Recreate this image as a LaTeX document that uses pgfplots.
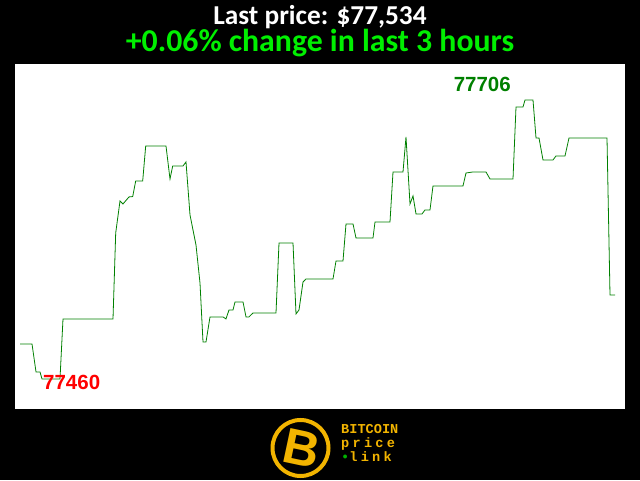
\documentclass[border=0pt]{standalone}
\usepackage{pgfplots}
\pgfplotsset{compat=1.18}
\usepackage{fontspec}
\setmainfont{Carlito}
\newfontfamily\arialfont{Liberation Sans}
\newfontfamily\monofont{Liberation Mono}
\newfontfamily\monospaced[LetterSpace=24]{Liberation Mono}
\definecolor{linegreen}{RGB}{0,128,0}
\definecolor{titlegreen}{RGB}{0,240,0}
\definecolor{btcyellow}{RGB}{242,180,0}
\begin{document}
\begin{tikzpicture}
\fill[black] (0pt,0pt) rectangle (640pt,480pt);
\fill[white] (15pt,71pt) rectangle (625pt,416pt);
\node[anchor=base,text=white,font=\bfseries\fontsize{27.3}{27.3}\selectfont,inner sep=0] at (320pt,455pt) {Last price: \$77,534};
\node[anchor=base,text=titlegreen,font=\bfseries\fontsize{31.8}{31.8}\selectfont,inner sep=0] at (320pt,428pt) {+0.06\% change in last 3 hours};
\begin{axis}[at={(15pt,71pt)},anchor=south west,scale only axis,width=610pt,height=345pt,
  xmin=15,xmax=625,ymin=77433.5,ymax=77737.7,axis lines=none,clip=false]
\addplot[linegreen,line width=0.8pt,mark=none] coordinates {
(20,77490.9) (32,77490.9) (36,77466.2) (40,77466.2) (42,77460) (60,77460) (63,77512.9) (113,77512.9)
(115.7,77588.7) (120,77616.9) (123,77614.3) (129,77620.5) (132.7,77620.8) (135.7,77634.6) (142.7,77634.6)
(145.7,77665.4) (166,77665.4) (170,77636.3) (172.7,77647.8) (183,77647.8) (186,77651.3) (190,77604.6)
(196,77578.1) (200,77544.6) (203,77492.6) (206,77492.6) (210,77514.7) (223,77514.7) (226,77512.9)
(229,77520.8) (233,77520.8) (235,77527.9) (243,77527.9) (246,77514.7) (249,77514.7) (253,77518.2)
(276,77518.2) (279,77579.9) (293,77579.9) (296,77517.3) (299,77520.8) (303,77545.5) (306,77548.2)
(333,77548.2) (336,77564.0) (343,77564.0) (346,77596.7) (353,77596.7) (356,77584.3) (373,77584.3)
(375,77598.4) (390,77598.4) (393,77642.5) (403,77642.5) (406,77673.4) (410,77614.3) (413,77621.4)
(416,77605.5) (422,77605.5) (425,77609.0) (430,77609.0) (433,77630.2) (463,77630.2) (466,77641.6)
(473,77642.5) (486,77642.5) (490,77636.3) (513,77636.3) (516,77699.8) (523,77699.8) (525,77706)
(533,77706) (536,77672.5) (539,77672.5) (543,77653.1) (553,77653.1) (556,77656.6) (565,77656.6)
(569,77672.5) (607,77672.5) (610,77534.1) (615,77534.1)
};
\node[anchor=west,inner sep=0,text=red,font=\arialfont\bfseries\fontsize{20.5}{20.5}\selectfont] at (axis cs:43,77456.5) {77460};
\node[anchor=east,inner sep=0,text=linegreen,font=\arialfont\bfseries\fontsize{20.5}{20.5}\selectfont] at (axis cs:511,77720.1) {77706};
\end{axis}
% logo
\draw[btcyellow,line width=4pt] (300.5pt,32pt) circle (28pt);
\node[rotate=-12,text=btcyellow,font=\arialfont\bfseries\fontsize{50}{50}\selectfont,inner sep=0] at (302pt,32pt) {B};
\node[anchor=base west,inner sep=0,text=btcyellow,font=\monofont\bfseries\fontsize{13.6}{13.6}\selectfont] at (341pt,47pt) {BITCOIN};
\node[anchor=base west,inner sep=0,text=btcyellow,font=\monospaced\bfseries\fontsize{13.6}{13.6}\selectfont] at (341pt,33pt) {price};
\node[anchor=base west,inner sep=0,text=btcyellow,font=\monospaced\bfseries\fontsize{13.6}{13.6}\selectfont] at (341pt,19pt) {\textcolor{green!70!black}{\textbullet}link};
\end{tikzpicture}
\end{document}
